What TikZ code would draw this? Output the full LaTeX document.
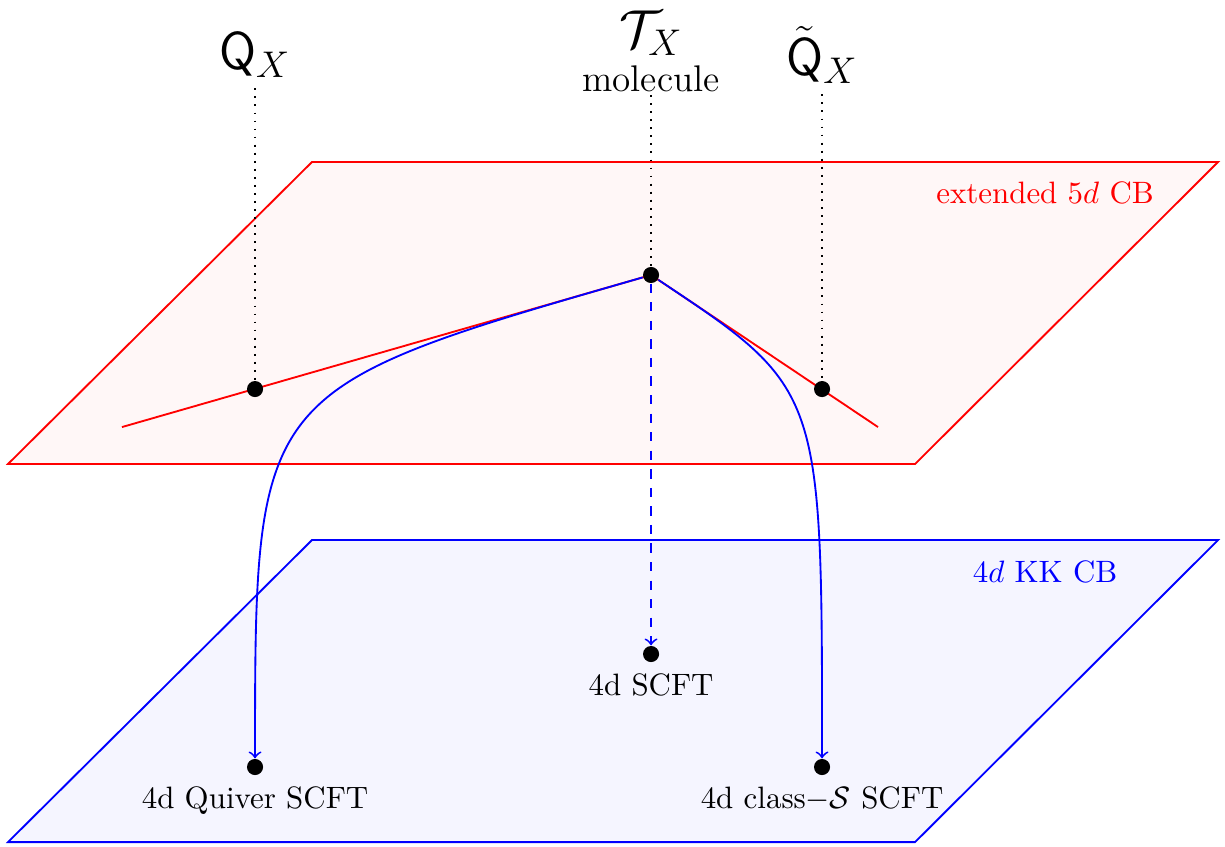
\documentclass[tikz,border=0pt]{standalone}
\usepackage{amsmath}
\usepackage{amsfonts}
\usepackage{amssymb}
\usepackage{tikz}

\begin{document}
\begin{tikzpicture}
      \tikzset{dot/.style={circle,fill=black,inner sep=0pt,minimum size=5.2pt}}
      \useasboundingbox (0,0) rectangle (13.92,9.614);
      \draw [-,semithick,red,fill=red!3] (0.091,4.341) -- (3.545,7.773) -- (13.841,7.773) -- (10.398,4.341) -- cycle;
      \draw [-,semithick,blue,fill=blue!4] (0.091,0.045) -- (3.545,3.477) -- (13.841,3.477) -- (10.398,0.045) -- cycle;
      \node [red] (fivecb) at (11.875,7.42) {extended $5d$ CB};
      \node [blue] (fourcb) at (11.875,3.114) {$4d$ KK CB};
      \coordinate (lend) at (1.386,4.761);
      \coordinate (rend) at (9.977,4.761);
      \coordinate (qpt) at (2.898,5.193);
      \coordinate (tpt) at (7.398,6.489);
      \coordinate (qtpt) at (9.341,5.193);
      \draw [-,semithick,red] (lend) -- (tpt) -- (rend);
      \node [dot] (q) at (qpt) {};
      \node [dot] (t) at (tpt) {};
      \node [dot] (qt) at (qtpt) {};
      \node [dot,label=below:4d Quiver SCFT] (quiver) at (2.898,0.898) {};
      \node [dot,label=below:4d SCFT] (scft) at (7.398,2.182) {};
      \node [dot,label=below:{4d class$-\mathcal{S}$ SCFT}] (classs) at (9.341,0.898) {};
      \node (qlab) at (2.898,8.99) {\LARGE $\mathsf{Q}_X$};
      \node [align=center,inner sep=1pt] (tlab) at (7.398,9.03) {{\LARGE $\mathcal{T}_X$}\\[2pt] {\large molecule}};
      \node (qtlab) at (9.341,8.99) {\LARGE $\tilde{\mathsf{Q}}_X$};
      \draw [-,semithick,dotted,black] (qlab) -- (q);
      \draw [-,semithick,dotted,black] (tlab) -- (t);
      \draw [-,semithick,dotted,black] (qtlab) -- (qt);
      \draw [->,semithick,dashed,blue] (t) -- (scft);
      \draw [->,semithick,blue] (t) .. controls (q.center) and (q.center) .. (quiver);
      \draw [->,semithick,blue] (t) .. controls (qt.center) and (qt.center) .. (classs);
    \end{tikzpicture}
\end{document}
